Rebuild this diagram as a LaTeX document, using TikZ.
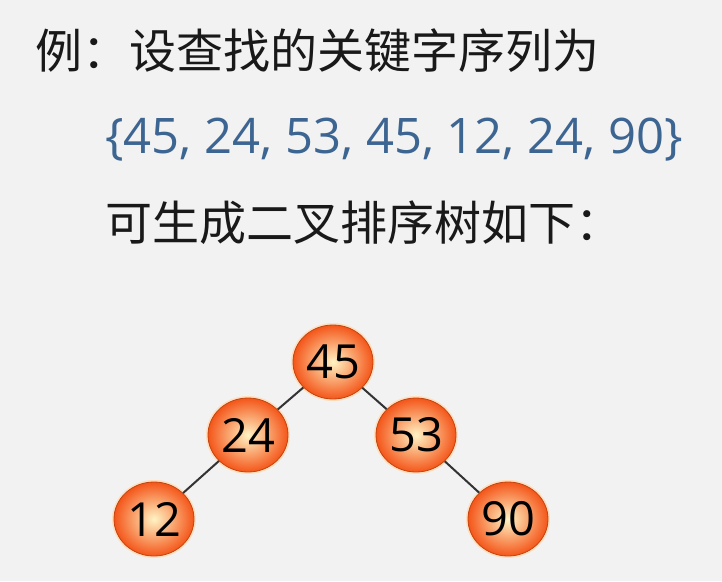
\documentclass[tikz,border=0pt]{standalone}
\usepackage{fontspec}
\setmainfont{Noto Sans CJK SC}
\newfontfamily\numfont{Open Sans}
\usetikzlibrary{positioning,shapes.geometric}
\definecolor{pagebg}{HTML}{F2F2F2}
\definecolor{seqblue}{HTML}{3D6592}
\definecolor{nodein}{HTML}{FFF3C4}
\definecolor{nodeout}{HTML}{F4561A}
\definecolor{nodeedge}{HTML}{C2440F}
\definecolor{treeline}{HTML}{333333}

\begin{document}
\begin{tikzpicture}[x = 1pt, y = -1pt,
        key/.style = {ellipse, minimum width = 80pt, minimum height = 74pt, inner sep = 0pt,
            draw = nodeedge, line width = 0.8pt, inner color = nodein, outer color = nodeout,
            preaction = {draw = orange!25, line width = 4pt},
            font = \numfont\fontsize{47}{47}\selectfont, text = black},
        line/.style = {font = \fontsize{47}{56}\selectfont, anchor = base west, inner sep = 0pt},
        link/.style = {draw = treeline, line width = 2pt}]
        \fill [pagebg] (0, 0) rectangle (722, 581);
        \useasboundingbox (0, 0) rectangle (722, 581);

        % text lines
        \node [line, text = black!90] (T1) at (35, 68) {例：设查找的关键字序列为};
        \node [line, text = seqblue, font = \numfont\fontsize{49}{56}\selectfont] (T2) at (105, 153) {\{45, 24, 53, 45, 12, 24, 90\}};
        \node [line, text = black!90] (T3) at (105, 240) {可生成二叉排序树如下：};

        % tree
        \node [key] (R) at (333, 362) {45};
        \node [key] (L) [on grid, below left = 73pt and 85pt of R] {24};
        \node [key] (G) [on grid, below right = 73pt and 83pt of R] {53};
        \node [key] (LL) [on grid, below left = 84pt and 94pt of L] {12};
        \node [key] (GR) [on grid, below right = 84pt and 92pt of G] {90};

        \path [link]
            (R) edge (L)
                edge (G)
            (L) edge (LL)
            (G) edge (GR);
    \end{tikzpicture}
\end{document}
